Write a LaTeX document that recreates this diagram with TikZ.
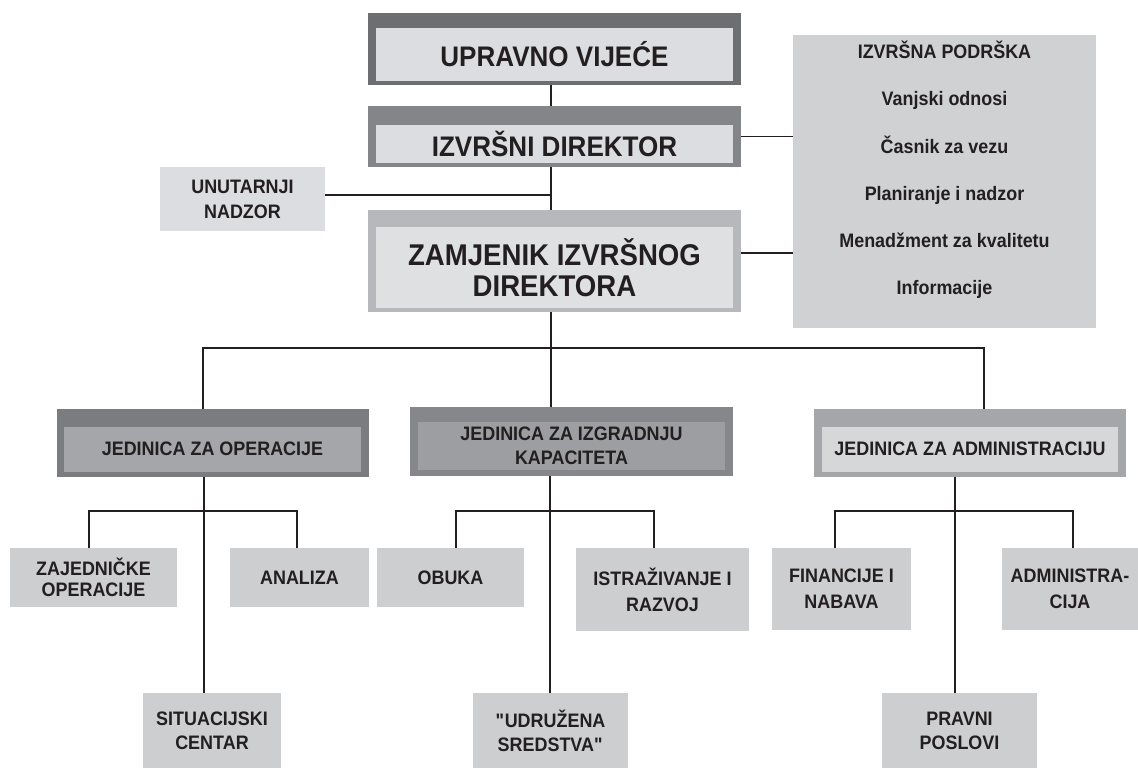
\documentclass[tikz,border=0pt]{standalone}
\usepackage{fontspec}
\setmainfont[FakeStretch=0.92]{Liberation Sans}
\newcommand{\sq}{{\XeTeXglyph\XeTeXglyphindex "quotedbl"\relax}}
\definecolor{ink}{HTML}{231F20}
\definecolor{oA}{HTML}{6D6E71}
\definecolor{oB}{HTML}{848589}
\definecolor{oC}{HTML}{B7B8BB}
\definecolor{iA}{HTML}{DCDDE0}
\definecolor{iC}{HTML}{DFE0E2}
\definecolor{podc}{HTML}{D0D1D3}
\definecolor{opO}{HTML}{7B7C80}
\definecolor{opI}{HTML}{A5A6A9}
\definecolor{kapO}{HTML}{86878A}
\definecolor{kapI}{HTML}{9D9EA1}
\definecolor{admO}{HTML}{A5A6A9}
\definecolor{admI}{HTML}{D6D7D9}
\definecolor{leafc}{HTML}{CDCECF}
\tikzset{
  plate/.style={draw=none, inner sep=0pt, outer sep=0pt, rectangle},
  big/.style={font=\bfseries\fontsize{28.3}{30}\selectfont, text=ink, align=center},
  huge/.style={font=\bfseries\fontsize{30}{31.5}\selectfont, text=ink, align=center},
  small/.style={font=\bfseries\fontsize{19.5}{24}\selectfont, text=ink, align=center},
  conn/.style={draw=ink, line width=1.5pt}
}
\begin{document}
\begin{tikzpicture}[x=1pt,y=-1pt]
\useasboundingbox (0,0) rectangle (1138,769);
% top boxes
\node[plate, fill=oA, minimum width=373pt, minimum height=72pt] (uv) at (554.5,49) {};
\node[plate, fill=iA, minimum width=357pt, minimum height=53pt, big] (uvi) at (554.5,54) {UPRAVNO VIJEĆE};
\node[plate, fill=oB, minimum width=373pt, minimum height=61pt] (id) at (554.5,136.5) {};
\node[plate, fill=iA, minimum width=357pt, minimum height=38pt, big] (idi) at (554.5,144) {IZVRŠNI DIREKTOR};
\node[plate, fill=oC, minimum width=373pt, minimum height=102pt] (zam) at (554.5,261) {};
\node[plate, fill=iC, minimum width=357pt, minimum height=81pt, huge] (zami) at (554.5,267.5) {ZAMJENIK IZVRŠNOG\\DIREKTORA};
\node[plate, fill=iA, minimum width=165pt, minimum height=64pt, small, font=\bfseries\fontsize{19.5}{25}\selectfont] (unut) at (242.5,199) {UNUTARNJI\\NADZOR};
\node[plate, fill=podc, minimum width=303pt, minimum height=293pt] (pod) at (944.5,181.5) {};
\node[small, inner sep=0pt, font=\bfseries\fontsize{19.5}{47.2}\selectfont] (podt) at (944.5,170) {IZVRŠNA PODRŠKA\\Vanjski odnosi\\Časnik za vezu\\Planiranje i nadzor\\Menadžment za kvalitetu\\Informacije};
% units
\node[plate, fill=opO, minimum width=312pt, minimum height=68pt] (op) at (213,443) {};
\node[plate, fill=opI, minimum width=297pt, minimum height=45pt, small] (opi) at (212.5,449) {JEDINICA ZA OPERACIJE};
\node[plate, fill=kapO, minimum width=323pt, minimum height=69pt] (kap) at (571.5,441.5) {};
\node[plate, fill=kapI, minimum width=307pt, minimum height=48pt, small] (kapi) at (571.5,445.5) {JEDINICA ZA IZGRADNJU\\KAPACITETA};
\node[plate, fill=admO, minimum width=312pt, minimum height=68pt] (adm) at (970,443) {};
\node[plate, fill=admI, minimum width=296pt, minimum height=45pt, small] (admi) at (970,449) {JEDINICA ZA ADMINISTRACIJU};
% leaves
\node[plate, fill=leafc, minimum width=167pt, minimum height=59pt, small, font=\bfseries\fontsize{19.5}{21}\selectfont] (zaj) at (93.5,577.5) {ZAJEDNIČKE\\OPERACIJE};
\node[plate, fill=leafc, minimum width=139pt, minimum height=59pt, small] (anal) at (299.5,577.5) {ANALIZA};
\node[plate, fill=leafc, minimum width=138pt, minimum height=75pt, small] (situ) at (212,730.5) {SITUACIJSKI\\CENTAR};
\node[plate, fill=leafc, minimum width=147pt, minimum height=59pt, small] (obuka) at (450.5,577.5) {OBUKA};
\node[plate, fill=leafc, minimum width=173pt, minimum height=83pt, small, font=\bfseries\fontsize{19.5}{26}\selectfont] (istr) at (662.5,589.5) {ISTRAŽIVANJE I\\RAZVOJ};
\node[plate, fill=leafc, minimum width=155pt, minimum height=75pt, small] (udr) at (550.5,730.5) {\sq UDRUŽENA\\SREDSTVA\sq};
\node[plate, fill=leafc, minimum width=139pt, minimum height=82pt, small, font=\bfseries\fontsize{19.5}{26}\selectfont] (fin) at (841.5,589) {FINANCIJE I\\NABAVA};
\node[plate, fill=leafc, minimum width=136pt, minimum height=82pt, small, font=\bfseries\fontsize{19.5}{26}\selectfont] (admn) at (1070,589) {ADMINISTRA-\\CIJA};
\node[plate, fill=leafc, minimum width=155pt, minimum height=75pt, small] (prav) at (959.5,730.5) {PRAVNI\\POSLOVI};
% coordinates
\coordinate (spine) at (551,0);
\coordinate (bus) at (0,348);
\coordinate (opx) at (203,0);
\coordinate (admx) at (984,0);
\coordinate (lowbus) at (0,511);
\coordinate (opc) at (204,0);
\coordinate (zajx) at (89,0);
\coordinate (analx) at (297,0);
\coordinate (kapc) at (550,0);
\coordinate (obx) at (456,0);
\coordinate (isx) at (654,0);
\coordinate (admc) at (955,0);
\coordinate (finx) at (835,0);
\coordinate (adnx) at (1073,0);
% connectors
\draw[conn] (uv.south -| spine) -- (id.north -| spine);
\draw[conn] (id.east) -- (id.east -| pod.west);
\draw[conn] (id.south -| spine) -- (zam.north -| spine);
\draw[conn] ([yshift=4pt]unut.east) -- ([yshift=4pt]unut.east -| spine);
\draw[conn] ([yshift=8pt]zam.east) -- ([yshift=8pt]zam.east -| pod.west);
\draw[conn] (zam.south -| spine) -- (spine |- bus);
\draw[conn] (op.north -| opx) -- (opx |- bus) -- (admx |- bus) -- (adm.north -| admx);
\draw[conn] (spine |- bus) -- (kap.north -| spine);
% operations
\draw[conn] (op.south -| opc) -- (situ.north -| opc);
\draw[conn] (zaj.north -| zajx) -- (zajx |- lowbus) -- (analx |- lowbus) -- (anal.north -| analx);
% capacity
\draw[conn] (kap.south -| kapc) -- (udr.north -| kapc);
\draw[conn] (obuka.north -| obx) -- (obx |- lowbus) -- (isx |- lowbus) -- (istr.north -| isx);
% administration
\draw[conn] (adm.south -| admc) -- (prav.north -| admc);
\draw[conn] (fin.north -| finx) -- (finx |- lowbus) -- (adnx |- lowbus) -- (admn.north -| adnx);
\end{tikzpicture}
\end{document}
